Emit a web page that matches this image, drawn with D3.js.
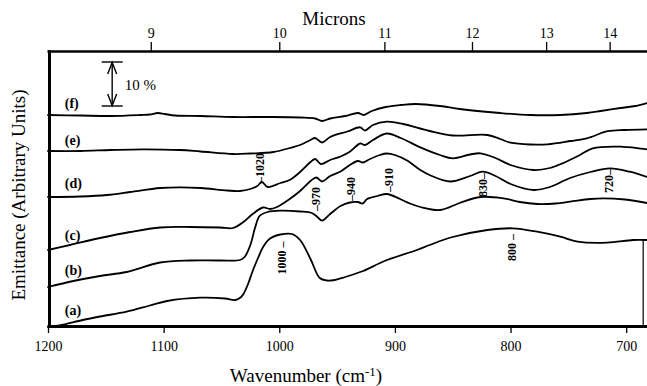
<!DOCTYPE html>
<html><head><meta charset="utf-8">
<script src="https://cdn.jsdelivr.net/npm/d3@7/dist/d3.min.js"></script>
<style>body{margin:0;background:#fff}svg{display:block}text{font-family:"Liberation Serif","Times New Roman",serif;fill:#000}</style>
</head><body>
<svg id="chart" width="647" height="386"></svg>
<script>
// ---- data (wavenumber cm-1, emittance in arbitrary units; 44 units = 10 %) ----
const wavenumberTicks = [1200, 1100, 1000, 900, 800, 700];
const micronTicks = [9, 10, 11, 12, 13, 14];

const curveA = [[1200,0],[1190,1.5],[1170,7],[1155,10.5],[1132,15.3],[1112,21.5],[1097,26],[1068,29.3],[1047,28.5],[1038,27],[1033,30],[1031,33],[1027,43],[1023,56],[1018,70],[1014,80],[1008,88.5],[999,92.5],[989,93],[982,87],[973,68],[965,49],[959,46.5],[952,47],[943,50],[927.5,56],[909,66],[881,77],[870,82],[850,90],[820,97],[798,98.7],[777,95.3],[757,90.3],[742,85.3],[716.5,84.3],[694,87],[682,87]];
const curveB = [[1200,40],[1178,46],[1155,51],[1132,55],[1103,64.5],[1077,66.5],[1051,66.5],[1034,67],[1030,70],[1025,82],[1021,99],[1017,111],[1010,115],[999,116.3],[982,115.5],[972,114],[967,110],[963,106.3],[956,113],[947,121],[939,124.5],[932,125],[928,123.5],[924,128],[915,131],[907,133],[895.5,128],[887,123.5],[878,120],[861,117],[844,124],[826,130],[806,128.7],[792,125],[777,123],[761,123.5],[748.5,125.3],[731,128],[720,128.7],[701,127.5],[682,124]];
const curveC = [[1200,77],[1181,82],[1155,89],[1129,95],[1103,99.5],[1077,100],[1051,99.5],[1040,99],[1031,105],[1023,113],[1014,119.5],[1008,118],[1002,120],[991,128],[982,136],[973,146],[968,149.5],[963,145.5],[956,151],[947,155.5],[939,162],[932,166],[927.5,164.5],[921.5,168],[913,172],[907,173.5],[900,172],[889.5,166.5],[878,157],[870,152],[852,145.5],[835,151],[824,155.3],[813,151],[800,143],[780,137],[766,140],[748.5,149],[731,155],[714,158.7],[697,155.3],[682,150]];
const curveD = [[1200,130],[1172,130.5],[1149,132],[1129,135],[1103,139],[1086,139.7],[1068,139],[1045,136.5],[1034,136],[1025,138],[1019,141],[1015,145],[1010,140],[999,144],[991,147],[982,155],[973,165],[969,168],[964,163],[956,167],[947,170.5],[939,175.3],[930,183.5],[926,182],[919,187],[907,193.5],[895,189],[878,179.7],[861,172],[850,168.7],[835,172.5],[826,173.7],[813,169],[800,162],[780,157],[766,159],[755,163.7],[740,172],[729,178.7],[705,180.3],[682,177.7]];
const curveE = [[1200,176],[1172,176],[1146,177],[1118,177.7],[1086,177],[1068,175.5],[1040,173],[1025,173.5],[1005,175],[991,179],[982,182],[973,187],[969,189],[963,184.5],[956,190],[941,195.5],[930,199.7],[926,196.5],[919,202],[907,205.3],[893,203],[870,196],[850,191.5],[820,192],[809,188],[800,184.3],[783,182.5],[768,182.7],[748,186],[734,188.7],[716,195.8],[701,197],[682,197.7]];
const curveF = [[1200,212],[1172,211.5],[1146,211],[1120,212],[1112,212.5],[1105,214],[1099,213],[1090,211.5],[1068,211],[1040,210],[1008,210],[982,209.5],[969,208.5],[963,206],[956,208.5],[943,211],[932,214],[927,212],[920,216],[908,220],[895,222],[882,223],[861,221],[844,218],[809,214],[783,212],[757,212],[734,214],[722,216],[705,219],[692,221],[682,224]];

const curveNames = ["(a)", "(b)", "(c)", "(d)", "(e)", "(f)"];
const curveLabelLevels = [12.5, 52.5, 87.5, 139, 182, 219.5];

const peakLabels = ["\u20131020", "\u2013970", "\u2013940", "\u2013910", "830\u2013", "720\u2013", "1000 \u2013", "800 \u2013"];
const peakLabelWn = [1017, 968.5, 938, 905.5, 823.5, 714.5, 998, 798.5];
const peakLabelLevel = [159, 128, 138, 147, 142, 146, 69, 79.5];

const scaleBarValue = 10;     // percent
const scaleBarUnits = 44;     // arbitrary units per 10 %
const scaleBarBase = 221;
const scaleBarWn = 1144.5;

// ---- drawing ----
const svg = d3.select("#chart");
const x = d3.scaleLinear().domain([1200, 682]).range([48, 647]);
const y = d3.scaleLinear().domain([0, 276]).range([327, 51]);

// curves
const line = d3.line().x(d => x(d[0])).y(d => y(d[1])).curve(d3.curveCatmullRom.alpha(0.5));
const curves = [curveA, curveB, curveC, curveD, curveE, curveF];
svg.append("g").selectAll("path").data(curves).join("path")
  .attr("d", line).attr("fill", "none").attr("stroke", "#000")
  .attr("stroke-width", 1.8).attr("stroke-linejoin", "round").attr("stroke-linecap", "round");

// right-hand short border below curve (a)
const aEnd = curveA[curveA.length - 1];
svg.append("line").attr("x1", x(685.3)).attr("x2", x(685.3))
  .attr("y1", y(aEnd[1])).attr("y2", y(0)).attr("stroke", "#000").attr("stroke-width", 1.2);

// bottom axis
const bottomAxisG = svg.append("g").attr("transform", `translate(0,${y(0)})`)
  .call(d3.axisBottom(x).tickValues(wavenumberTicks).tickSize(6).tickPadding(8.5).tickFormat(d3.format("d")));
bottomAxisG.select(".domain").remove();
bottomAxisG.selectAll("line").attr("stroke-width", 1.3);
bottomAxisG.selectAll("text").attr("font-size", 14).style("font-family", '"Liberation Serif",serif');

// top axis (microns)
const topAxisG = svg.append("g").attr("transform", `translate(0,${y(276)})`)
  .call(d3.axisTop(x).tickValues(micronTicks.map(m => 10000 / m)).tickSize(9).tickPadding(4)
    .tickFormat(d => Math.round(10000 / d)));
topAxisG.select(".domain").remove();
topAxisG.selectAll("line").attr("stroke-width", 1.3);
topAxisG.selectAll("text").attr("font-size", 14).style("font-family", '"Liberation Serif",serif');

// frame
svg.append("line").attr("x1", 47.5).attr("x2", 647).attr("y1", y(276) + 0.5).attr("y2", y(276) + 0.5)
  .attr("stroke", "#000").attr("stroke-width", 2.5);
svg.append("line").attr("x1", 47.5).attr("x2", 647).attr("y1", y(0) - 0.5).attr("y2", y(0) - 0.5)
  .attr("stroke", "#000").attr("stroke-width", 3);
svg.append("line").attr("x1", 49.5).attr("x2", 49.5).attr("y1", y(276) - 0.8).attr("y2", y(0) + 1)
  .attr("stroke", "#000").attr("stroke-width", 3);

// axis titles
svg.append("text").attr("x", 334).attr("y", 25).attr("text-anchor", "middle")
  .attr("font-size", 19).text("Microns");
const xt = svg.append("text").attr("x", 306).attr("y", 381.5).attr("text-anchor", "middle").attr("font-size", 19);
xt.append("tspan").text("Wavenumber (cm");
xt.append("tspan").attr("font-size", 13).attr("dy", -6).text("-1");
xt.append("tspan").attr("dy", 6).text(")");
svg.append("text").attr("transform", "translate(25,195) rotate(-90)").attr("text-anchor", "middle")
  .attr("font-size", 19).text("Emittance (Arbitrary Units)");

// curve labels
svg.append("g").selectAll("text").data(curveNames).join("text")
  .attr("x", x(1185.5)).attr("y", (d, i) => y(curveLabelLevels[i]))
  .attr("font-size", 14).attr("font-weight", "bold").text(d => d);

// peak labels (rotated)
svg.append("g").selectAll("text").data(peakLabels).join("text")
  .attr("transform", (d, i) => `translate(${x(peakLabelWn[i])},${y(peakLabelLevel[i])}) rotate(-90)`)
  .attr("text-anchor", "middle").attr("dominant-baseline", "central")
  .attr("font-size", 12).attr("font-weight", "bold").text(d => d);

// 10 % scale bar
const bx = x(scaleBarWn), yb = y(scaleBarBase), yt = y(scaleBarBase + scaleBarUnits);
const sb = svg.append("g").attr("stroke", "#000").attr("stroke-width", 1.4).attr("fill", "none");
sb.append("line").attr("x1", bx).attr("x2", bx).attr("y1", yt).attr("y2", yb);
sb.append("line").attr("x1", bx - 10.5).attr("x2", bx + 10.5).attr("y1", yt).attr("y2", yt);
sb.append("line").attr("x1", bx - 10.5).attr("x2", bx + 10.5).attr("y1", yb).attr("y2", yb);
sb.append("path").attr("d", `M${bx - 4.5},${yt + 12}L${bx},${yt + 0.5}L${bx + 4.5},${yt + 12}`);
sb.append("path").attr("d", `M${bx - 4.5},${yb - 12}L${bx},${yb - 0.5}L${bx + 4.5},${yb - 12}`);
svg.append("text").attr("x", bx + 12.5).attr("y", (yt + yb) / 2 + 6).attr("font-size", 15)
  .text(scaleBarValue + " %");
</script>
</body></html>
